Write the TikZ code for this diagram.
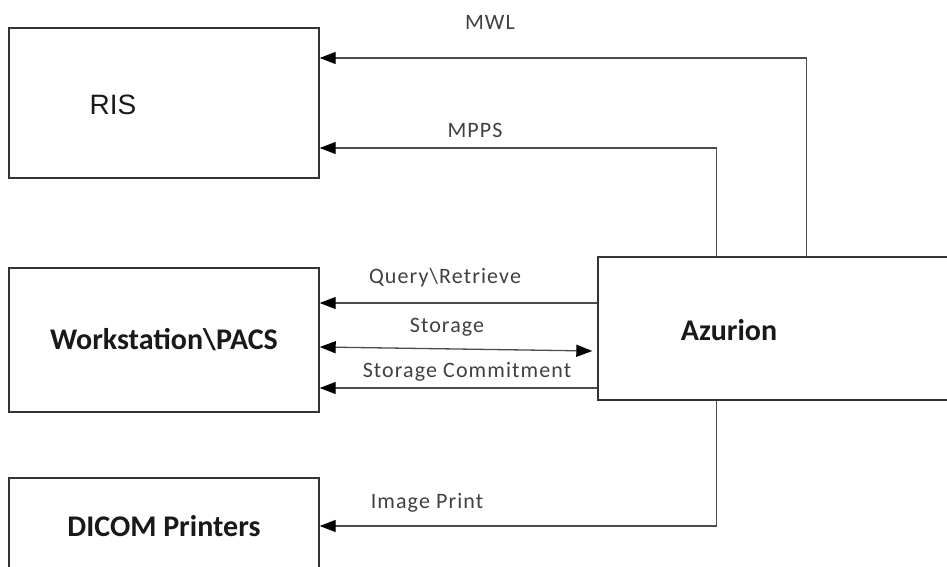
\documentclass[tikz,border=0pt]{standalone}
\usepackage{fontspec}
\setmainfont{Carlito}
\newfontfamily\risfont{Liberation Sans}
\newfontfamily\lblfont[LetterSpace=5]{Carlito}
\usetikzlibrary{arrows.meta,calc,positioning}

\tikzset{
  sysbox/.style={draw=black!80, line width=1.4pt, minimum width=310pt, inner sep=0pt},
  boxtext/.style={font=\bfseries\fontsize{30}{32}\selectfont, text=black!90},
  msg/.style={draw=black!70, line width=1.3pt, -{Triangle[length=16pt,width=12pt,color=black]}},
  msgboth/.style={msg, {Triangle[length=16pt,width=12pt,color=black]}-{Triangle[length=16pt,width=12pt,color=black]}},
  msglbl/.style={font=\lblfont\fontsize{22}{24}\selectfont, text=black!75},
}

\begin{document}
\begin{tikzpicture}[x=1pt,y=1pt]
	\useasboundingbox (0,0) rectangle (947,567);
	
	% systems
	\node[sysbox, minimum height=150pt] (ris) at (164,464) {};
	\node[font=\risfont\fontsize{28}{30}\selectfont, text=black!90] (ristxt) at (113,462) {RIS};
	
	\node[sysbox, minimum height=144pt, boxtext] (ws) at (164,227) {Workstation\textbackslash PACS};
	\node[sysbox, minimum height=96pt, boxtext] (printer) at (164,41) {DICOM Printers};
	
	\node[sysbox, minimum width=362pt, minimum height=143pt] (azurion) at (779,238.5) {};
	\node[boxtext] (aztxt) at (729,237) {Azurion};
	
	% message rows
	\coordinate (qr) at ([yshift=37pt]ws.east);
	\coordinate (st) at ([yshift=-7pt]ws.east);
	\coordinate (sc) at ([yshift=-48pt]ws.east);
	
	\draw[msg] ([xshift=209pt]azurion.north west) |- ([yshift=45pt]ris.east);
	\draw[msg] ([xshift=119pt]azurion.north west) |- ([yshift=-45pt]ris.east);
	\draw[msg] (qr -| azurion.west) -- (qr);
	\draw[msgboth] (st) -- ($(st -| azurion.west)+(-5,-4)$);
	\draw[msg] (sc -| azurion.west) -- (sc);
	\draw[msg] ([xshift=119pt]azurion.south west) |- (printer.east);
	
	% labels
	\node[msglbl] (mwl) at (490,545) {MWL};
	\node[msglbl] (mpps) at (475,437) {MPPS};
	\node[msglbl] (qrl) at (445,289) {Query\textbackslash Retrieve};
	\node[msglbl] (stl) at (447,240) {Storage};
	\node[msglbl] (scl) at (467,195) {Storage Commitment};
	\node[msglbl] (ipl) at (427,64) {Image Print};
\end{tikzpicture}
\end{document}
